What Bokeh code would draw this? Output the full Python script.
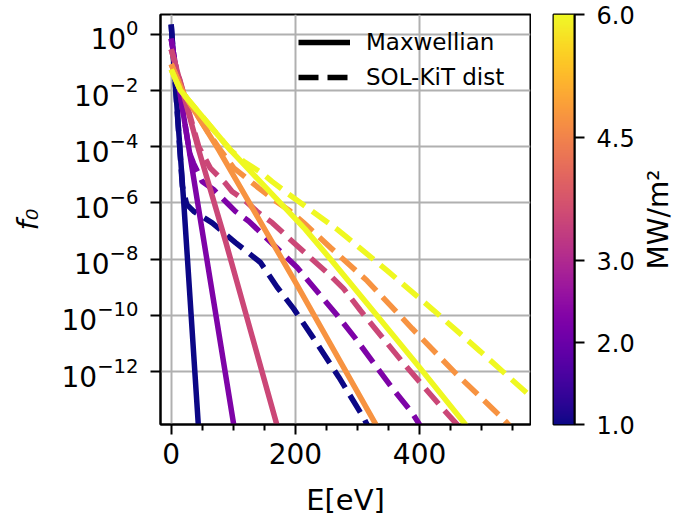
import numpy as np
from bokeh.plotting import figure
from bokeh.models import (FixedTicker, Legend, LegendItem,
                          NumeralTickFormatter, ColumnDataSource)
from bokeh.layouts import row
from bokeh.palettes import Plasma256
from bokeh.embed import file_html
from bokeh.resources import INLINE

# ---------------- data ----------------
heat_flux = [1.0, 2.0, 3.0, 4.5, 6.0]          # MW/m^2

# Maxwellian curves: energy [eV] and log10(f0)
maxw_E_1 = [0, 20.3, 44]
maxw_lf_1 = [0.35, -6.0, -14.0]
maxw_E_2 = [0, 41.8, 101.5]
maxw_lf_2 = [-0.15, -5.88, -14.0]
maxw_E_3 = [0, 44.4, 87.4, 171.5]
maxw_lf_3 = [-0.53, -4.12, -7.35, -14.0]
maxw_E_45 = [0, 20, 76.7, 157, 200, 332.5]
maxw_lf_45 = [-1.06, -2.1, -4.12, -7.18, -8.82, -14.0]
maxw_E_6 = [0, 15, 95.5, 216, 256.5, 331, 401, 478]
maxw_lf_6 = [-1.25, -2.0, -4.12, -6.94, -8.0, -10.0, -11.88, -14.0]

# SOL-KiT distributions: energy [eV] and log10(f0)
sol_E_1 = [0, 18, 25, 36.4, 66, 103.5, 143.8, 170.7, 197.4, 229.6, 270, 310, 318]
sol_lf_1 = [0.35, -5.4, -6.05, -6.30, -6.71, -7.41, -8.12, -9.0, -9.77, -10.83, -12.2, -13.65, -14.0]
sol_E_2 = [0, 30, 36, 50, 68.6, 90, 103.5, 125, 202.9, 267.3, 297, 356, 388, 403]
sol_lf_2 = [-0.15, -4.25, -4.59, -5.24, -5.53, -6.0, -6.3, -6.65, -8.30, -10.0, -10.83, -12.59, -13.47, -14.0]
sol_E_3 = [0, 44.4, 63, 87, 98, 117, 138, 163, 197, 256.5, 278, 304.8, 372, 436.4, 465]
sol_lf_3 = [-0.53, -4.0, -4.76, -5.29, -5.59, -5.88, -6.30, -6.71, -7.41, -8.59, -9.06, -9.83, -11.65, -13.30, -14.0]
sol_E_45 = [0, 20, 60, 77, 101, 125, 141, 165, 192, 213.5, 256.5, 315.6, 388, 457.8, 533, 548]
sol_lf_45 = [-1.06, -2.1, -3.5, -4.05, -4.76, -5.18, -5.47, -5.88, -6.30, -6.71, -7.59, -8.77, -10.47, -12.06, -13.65, -14.0]
sol_E_6 = [0, 15, 95.5, 117, 146.5, 162.6, 186.8, 267.3, 280.7, 347.8, 423, 498, 573, 585]
sol_lf_6 = [-1.25, -2.0, -4.12, -4.53, -4.94, -5.24, -5.65, -6.94, -7.18, -8.41, -9.83, -11.29, -12.77, -13.0]

maxw_E = [maxw_E_1, maxw_E_2, maxw_E_3, maxw_E_45, maxw_E_6]
maxw_lf = [maxw_lf_1, maxw_lf_2, maxw_lf_3, maxw_lf_45, maxw_lf_6]
sol_E = [sol_E_1, sol_E_2, sol_E_3, sol_E_45, sol_E_6]
sol_lf = [sol_lf_1, sol_lf_2, sol_lf_3, sol_lf_45, sol_lf_6]

x_ticks = [0, 200, 400]
x_minor_ticks = [50, 100, 150, 250, 300, 350, 450, 500, 550]
y_ticks = [1e0, 1e-2, 1e-4, 1e-6, 1e-8, 1e-10, 1e-12]
cbar_ticks = [1.0, 2.0, 3.0, 4.5, 6.0]
legend_labels = ["Maxwellian", "SOL-KiT dist"]
cbar_title = "MW/m²"

FONT = "DejaVu Sans"
LW = 5.5
DASH = "20 9"

# ---------------- main plot ----------------
p = figure(width=531, height=519, x_range=(-17.2, 578.6), y_range=(1.3e-14, 5.1),
           y_axis_type="log", toolbar_location=None, output_backend="svg",
           min_border_left=160, min_border_right=1, min_border_top=13, min_border_bottom=92)
p.outline_line_color = "black"
p.outline_line_width = 2
p.background_fill_color = "white"
p.border_fill_color = "white"

n = len(heat_flux)
cmin, cmax = min(heat_flux), max(heat_flux)
for i, q in enumerate(heat_flux):
    color = Plasma256[int(round(i / (n - 1) * 255))]
    src_m = ColumnDataSource(dict(E=maxw_E[i], f=[10 ** v for v in maxw_lf[i]]))
    p.line("E", "f", source=src_m, line_color=color, line_width=LW, line_join="round")
    src_s = ColumnDataSource(dict(E=sol_E[i], f=[10 ** v for v in sol_lf[i]]))
    p.line("E", "f", source=src_s, line_color=color, line_width=LW, line_dash=DASH)

# legend proxies (no visible data)
r_solid = p.line(x=[np.nan], y=[np.nan], line_color="black", line_width=LW)
r_dash = p.line(x=[np.nan], y=[np.nan], line_color="black", line_width=LW, line_dash=DASH)
legend = Legend(items=[LegendItem(label=legend_labels[0], renderers=[r_solid], index=0),
                       LegendItem(label=legend_labels[1], renderers=[r_dash], index=0)],
                location=(138, 333), border_line_color=None, background_fill_alpha=0,
                padding=0, margin=0, glyph_width=52, glyph_height=28, label_height=28,
                spacing=7, label_standoff=16, label_text_font_size="23px",
                label_text_font=FONT, label_text_baseline="middle",
                label_text_color="black")
p.add_layout(legend)

p.xaxis.ticker = FixedTicker(ticks=x_ticks, minor_ticks=x_minor_ticks)
p.yaxis.ticker = FixedTicker(ticks=y_ticks, minor_ticks=[])
p.xgrid.ticker = FixedTicker(ticks=x_ticks)
p.ygrid.ticker = FixedTicker(ticks=y_ticks)
for g in (p.xgrid, p.ygrid):
    g.grid_line_color = "#b0b0b0"
    g.grid_line_width = 2

for ax in (p.xaxis, p.yaxis):
    ax.axis_line_width = 2
    ax.axis_line_color = "black"
    ax.major_tick_line_width = 2
    ax.major_tick_out = 10
    ax.major_tick_in = 0
    ax.minor_tick_line_width = 2
    ax.minor_tick_out = 6
    ax.minor_tick_in = 0
    ax.major_label_text_font = FONT
    ax.major_label_text_font_size = "28px"
    ax.major_label_text_color = "black"
    ax.axis_label_text_font = FONT
    ax.axis_label_text_font_size = "29px"
    ax.axis_label_text_color = "black"
p.xaxis.major_label_standoff = 8
p.yaxis.major_label_standoff = 12
p.yaxis.minor_tick_line_color = None
p.xaxis.axis_label = "E[eV]"
p.xaxis.axis_label_text_font_style = "normal"
p.xaxis.axis_label_standoff = 16
p.yaxis.axis_label = "f₀"
p.yaxis.axis_label_text_font_style = "italic"
p.yaxis.axis_label_standoff = 14

# ---------------- colour bar ----------------
cb = figure(width=110, height=519, x_range=(0, 1), y_range=(cmin, cmax),
            toolbar_location=None, output_backend="svg",
            min_border_left=22, min_border_right=67, min_border_top=14, min_border_bottom=93,
            y_axis_location="right", x_axis_location=None)
cb.grid.visible = False
cb.outline_line_color = "black"
cb.outline_line_width = 2
cb.image(image=[np.linspace(cmin, cmax, 256).reshape(256, 1)], x=0, y=cmin, dw=1,
         dh=cmax - cmin, palette=Plasma256)
cb.yaxis.ticker = FixedTicker(ticks=cbar_ticks, minor_ticks=[])
cb.yaxis.formatter = NumeralTickFormatter(format="0.0")
cb.yaxis.axis_line_width = 2
cb.yaxis.major_tick_line_width = 2
cb.yaxis.major_tick_out = 10
cb.yaxis.major_tick_in = 0
cb.yaxis.major_label_standoff = 12
cb.yaxis.major_label_text_font = FONT
cb.yaxis.major_label_text_font_size = "24px"
cb.yaxis.major_label_text_color = "black"

# colour-bar title: a left axis label (reads bottom-to-top) of a slim strip
lab = figure(width=50, height=519, x_range=(0, 1), y_range=(cmin, cmax),
             toolbar_location=None, output_backend="svg",
             min_border_left=45, min_border_right=0, min_border_top=14, min_border_bottom=93,
             x_axis_location=None)
lab.grid.visible = False
lab.outline_line_color = None
lab.yaxis.ticker = FixedTicker(ticks=[], minor_ticks=[])
lab.yaxis.axis_line_color = None
lab.yaxis.major_tick_line_color = None
lab.yaxis.minor_tick_line_color = None
lab.yaxis.axis_label = cbar_title
lab.yaxis.axis_label_text_font = FONT
lab.yaxis.axis_label_text_font_size = "28px"
lab.yaxis.axis_label_text_font_style = "normal"
lab.yaxis.axis_label_text_color = "black"
lab.yaxis.axis_label_standoff = 17

layout = row(p, cb, lab)
open("out.html", "w").write(file_html(layout, INLINE))
